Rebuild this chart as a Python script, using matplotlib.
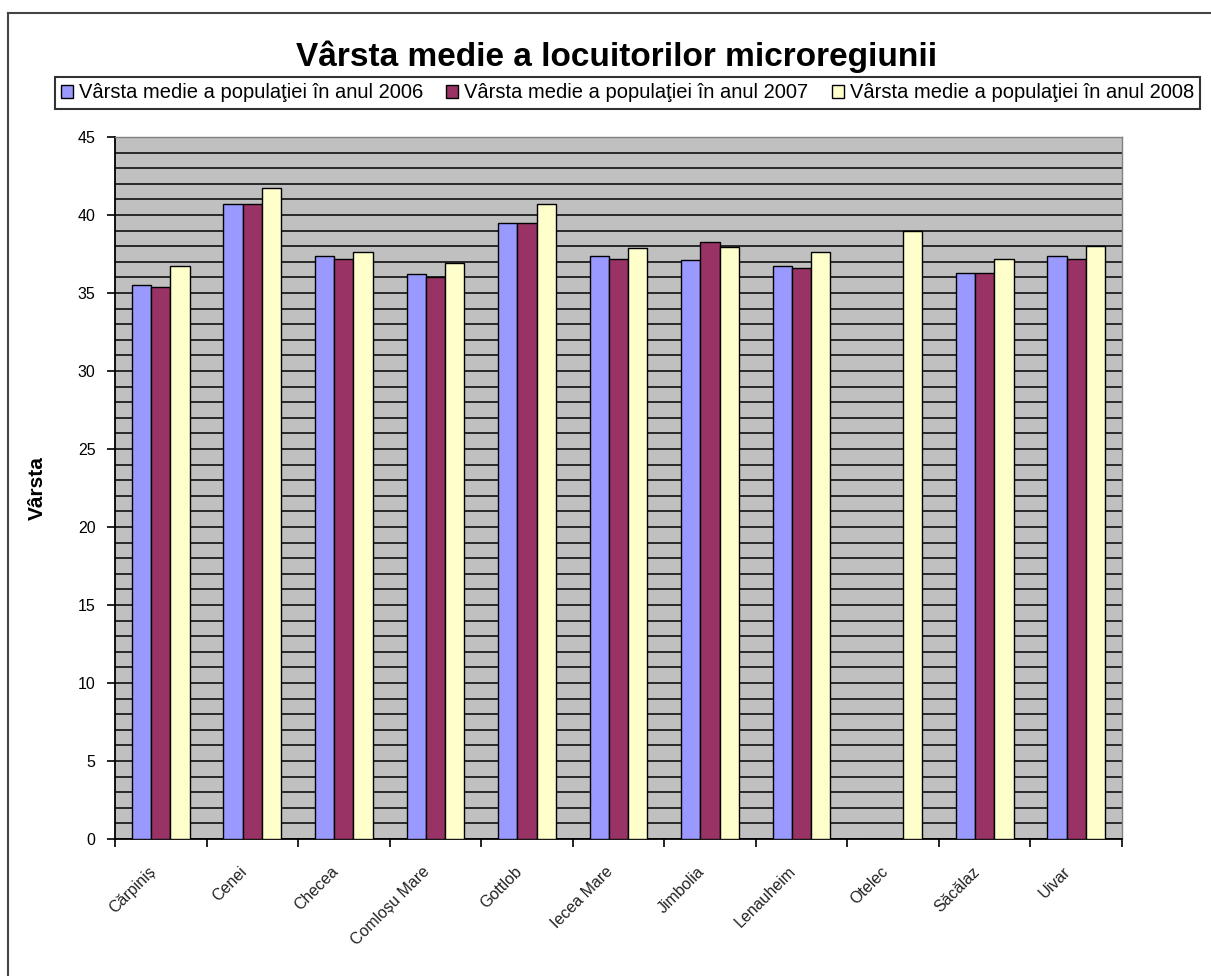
import numpy as np
import matplotlib.pyplot as plt
from matplotlib.lines import Line2D
from matplotlib.ticker import MultipleLocator, FixedLocator
from matplotlib.transforms import ScaledTranslation, blended_transform_factory

plt.rcParams['font.family'] = ['Liberation Sans', 'DejaVu Sans']

localitati = ['Cărpiniș', 'Cenei', 'Checea', 'Comloșu Mare', 'Gottlob', 'Iecea Mare',
              'Jimbolia', 'Lenauheim', 'Otelec', 'Săcălaz', 'Uivar']
varsta_2006 = [35.5, 40.7, 37.4, 36.2, 39.5, 37.4, 37.1, 36.7, 0, 36.3, 37.4]
varsta_2007 = [35.4, 40.7, 37.2, 36.0, 39.5, 37.2, 38.3, 36.6, 0, 36.3, 37.2]
varsta_2008 = [36.7, 41.7, 37.6, 36.9, 40.7, 37.9, 37.95, 37.6, 39.0, 37.2, 38.0]
serii = ['Vârsta medie a populaţiei în anul 2006',
         'Vârsta medie a populaţiei în anul 2007',
         'Vârsta medie a populaţiei în anul 2008']
culori = ['#9999FF', '#993366', '#FFFFCC']

W, H = 1211, 976
fig = plt.figure(figsize=(W / 100, H / 100), dpi=100)
ax = fig.add_axes([115 / W, 1 - 839 / H, (1122 - 115) / W, (839 - 137) / H])
ax.set_facecolor('#C0C0C0')

x = np.arange(len(localitati))
bw = 0.21
for i, (vals, lab, c) in enumerate(zip([varsta_2006, varsta_2007, varsta_2008], serii, culori)):
    ax.bar(x + (i - 1) * bw, vals, width=bw, color=c, edgecolor='black',
           linewidth=1.0, label=lab, zorder=3)

ax.set_xlim(-0.5, len(localitati) - 0.5)
ax.set_ylim(0, 45)
ax.yaxis.set_major_locator(MultipleLocator(5))
ax.yaxis.set_minor_locator(MultipleLocator(1))
ax.grid(axis='y', which='both', color='black', linewidth=1.1, zorder=1)
ax.set_axisbelow(True)

# etichete categorii, rotite, usor la stanga de centru (ca in Excel)
ax.set_xticks(x)
ax.set_xticklabels([])
trans = blended_transform_factory(ax.transData, ax.transAxes) + \
    ScaledTranslation(-13 / 100, -25 / 100, fig.dpi_scale_trans)
for xi, nume in zip(x, localitati):
    ax.text(xi, 0, nume, transform=trans, rotation=45, ha='right', va='top',
            rotation_mode='anchor', fontsize=11.5, color='#222222')

ax.xaxis.set_minor_locator(FixedLocator(np.arange(-0.5, len(localitati), 1)))
ax.tick_params(axis='x', which='major', length=0)
ax.tick_params(axis='x', which='minor', length=6, width=1.2, direction='out')
ax.tick_params(axis='y', which='major', length=6, width=1.2, labelsize=11.5, pad=8)
ax.tick_params(axis='y', which='minor', length=0)

for s in ['left', 'bottom']:
    ax.spines[s].set_linewidth(1.3)
for s in ['top', 'right']:
    ax.spines[s].set_color('#808080')
    ax.spines[s].set_linewidth(1.0)

ax.set_ylabel('Vârsta', fontsize=15, fontweight='bold', labelpad=22)

fig.text(617 / W, 1 - 57 / H, 'Vârsta medie a locuitorilor microregiunii',
         ha='center', va='center', fontsize=24, fontweight='bold')

leg = fig.legend(loc='center', bbox_to_anchor=(55 / W, 1 - 111 / H, 1145 / W, 36 / H),
                 mode='expand', ncol=3, fontsize=14.5, frameon=True, fancybox=False,
                 edgecolor='black', handlelength=0.6, handleheight=0.6,
                 handletextpad=0.3, borderpad=0.3, borderaxespad=0)
leg.get_frame().set_linewidth(1.5)
leg.get_frame().set_boxstyle('Square', pad=0)

# chenar exterior
fig.add_artist(Line2D([8 / W, 8 / W], [0, 1 - 13 / H], color='#444444', linewidth=1.5))
fig.add_artist(Line2D([8 / W, 1], [1 - 13 / H, 1 - 13 / H], color='#444444', linewidth=1.5))

fig.savefig('out.png', dpi=100)
